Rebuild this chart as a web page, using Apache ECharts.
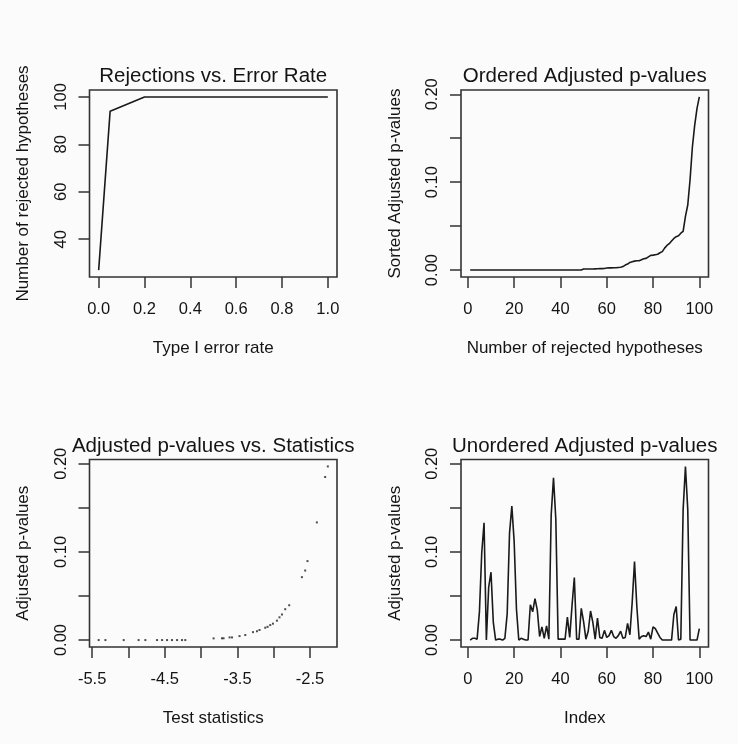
<!DOCTYPE html>
<html><head><meta charset="utf-8">
<script src="https://cdn.jsdelivr.net/npm/echarts@6/dist/echarts.min.js"></script>
<style>html,body{margin:0;padding:0;background:#fbfbfb}#c{width:738px;height:744px}</style>
</head><body><div id="c"></div>
<script>
// ---- Panel 1: Rejections vs. Error Rate ----
const errorRates = [0, 0.05, 0.1, 0.15, 0.2, 0.25, 0.3, 0.35, 0.4, 0.45, 0.5, 0.55, 0.6, 0.65, 0.7, 0.75, 0.8, 0.85, 0.9, 0.95, 1.0];
const rejections = [27, 94, 96, 98, 100, 100, 100, 100, 100, 100, 100, 100, 100, 100, 100, 100, 100, 100, 100, 100, 100];
const p1XTicks = [0, 0.2, 0.4, 0.6, 0.8, 1.0];
const p1YTicks = [40, 60, 80, 100];

// ---- Panel 2: Ordered adjusted p-values ----
const sortedAdjP = [
  0,0,0,0,0,0,0,0,0,0, 0,0,0,0,0,0,0,0,0,0, 0,0,0,0,0,0,0,0,0,0, 0,0,0,0,0,0,0,0,0,0, 0,0,0,0,0,0,0,0,0,
  0.0012,0.0012,0.0012,0.0012,0.0013,0.0014,0.0015,0.0016,0.0017,0.0018,
  0.0024,0.0025,0.0025,0.0026,0.0026,0.003,
  0.0033,0.004,0.0057,0.0068,0.0087,0.0095,0.0102,0.0106,0.0106,0.0117,
  0.0129,0.0133,0.015,0.0167,0.017,0.0175,0.018,0.0197,0.021,0.025,
  0.028,0.030,0.033,0.036,0.038,0.039,0.042,0.044,0.061,0.074,
  0.103,0.14,0.165,0.184,0.197
];
const pTicks = [0, 0.05, 0.10, 0.15, 0.20];
const pLabels = [0, 0.10, 0.20];
const indexTicks = [0, 20, 40, 60, 80, 100];

// ---- Panel 3: Adjusted p-values vs. test statistics ----
const testStats = [-5.41, -5.317, -5.065, -4.86, -4.767, -4.606, -4.537, -4.468, -4.40, -4.33, -4.262, -4.217,
  -3.827, -3.712, -3.69, -3.607, -3.574, -3.47, -3.391, -3.285, -3.23, -3.195, -3.116, -3.084, -3.047, -3.01,
  -2.955, -2.92, -2.886, -2.841, -2.786, -2.611, -2.566, -2.534, -2.405, -2.291, -2.254];
const statAdjP = [0, 0, 0, 0, 0, 0, 0, 0, 0, 0, 0, 0,
  0.0019, 0.002, 0.002, 0.003, 0.003, 0.0045, 0.0057, 0.009, 0.010, 0.0114, 0.014, 0.015, 0.017, 0.0186,
  0.022, 0.0258, 0.029, 0.035, 0.0395, 0.0714, 0.0789, 0.0896, 0.1335, 0.185, 0.197];
const statTicks = [-5.5, -5.0, -4.5, -4.0, -3.5, -3.0, -2.5];
const statLabels = [-5.5, -4.5, -3.5, -2.5];

// ---- Panel 4: Unordered adjusted p-values ----
const unorderedAdjP = [
  0, 0.002, 0.002, 0.001, 0.032, 0.099, 0.133, 0.0, 0.06, 0.077,
  0.02, 0.0, 0.001, 0.001, 0.0, 0.002, 0.03, 0.121, 0.152, 0.112,
  0.035, 0.0, 0.002, 0.001, 0.0, 0.0, 0.04, 0.032, 0.047, 0.034,
  0.004, 0.015, 0.002, 0.016, 0.001, 0.142, 0.184, 0.137, 0.001, 0.001,
  0.001, 0.001, 0.026, 0.003, 0.039, 0.071, 0.001, 0.001, 0.036, 0.021,
  0.001, 0.01, 0.033, 0.02, 0.001, 0.025, 0.003, 0.002, 0.011, 0.003,
  0.005, 0.011, 0.004, 0.002, 0.005, 0.01, 0.002, 0.003, 0.019, 0.006,
  0.043, 0.089, 0.038, 0.001, 0.004, 0.005, 0.004, 0.009, 0.001, 0.015,
  0.013, 0.008, 0.003, 0, 0, 0, 0, 0, 0.029, 0.038,
  0, 0.001, 0.148, 0.197, 0.148, 0, 0, 0, 0, 0.013
];

// ---- build ----
const FONT = '"Liberation Sans", Arial, sans-serif';
const TXT = '#141414';
const LINE = '#1a1a1a';
const BOX = '#333';
const FS = 16.5;
const FSN = 17;

function ext(arr){ const lo=Math.min(...arr), hi=Math.max(...arr); const d=(hi-lo)*0.04; return [lo-d, hi+d]; }
function pairs(xs, ys){ return xs.map((x,i)=>[x, ys[i]]); }
const idx100 = sortedAdjP.map((_,i)=>i+1);

function xAx(g, range, ticks, labels, fmt, name){
  return { type:'value', gridIndex:g, min:range[0], max:range[1], name, nameLocation:'middle', nameGap:71,
    nameTextStyle:{fontFamily:FONT, fontSize:FSN, color:TXT, verticalAlign:'middle'},
    axisLine:{show:false, onZero:false}, splitLine:{show:false},
    axisTick:{show:true, length:11, customValues:ticks, lineStyle:{color:BOX, width:1.5}},
    axisLabel:{customValues:labels, formatter:fmt, margin:24, fontFamily:FONT, fontSize:FS, color:TXT} };
}
function yAx(g, range, ticks, labels, fmt, name){
  return { type:'value', gridIndex:g, min:range[0], max:range[1], name, nameLocation:'middle', nameGap:66,
    nameTextStyle:{fontFamily:FONT, fontSize:FSN, color:TXT, verticalAlign:'middle'},
    axisLine:{show:false, onZero:false}, splitLine:{show:false},
    axisTick:{show:true, length:11, customValues:ticks, lineStyle:{color:BOX, width:1.5}},
    axisLabel:{customValues:labels, formatter:fmt, rotate:90, margin:20, fontFamily:FONT, fontSize:FS, color:TXT} };
}
const gridStyle = {show:true, borderColor:BOX, borderWidth:1.6, backgroundColor:'transparent'};
const f1 = v=>v.toFixed(1), f2 = v=>v.toFixed(2), f0 = v=>String(Math.round(v));

const option = {
  backgroundColor:'#fbfbfb',
  animation:false,
  grid:[
    Object.assign({left:89.5, top:90, width:247.5, height:187}, gridStyle),
    Object.assign({left:461, top:90, width:247.5, height:187}, gridStyle),
    Object.assign({left:89.5, top:459.5, width:247.5, height:187.5}, gridStyle),
    Object.assign({left:461, top:459.5, width:247.5, height:187.5}, gridStyle)
  ],
  xAxis:[
    xAx(0, ext(errorRates), p1XTicks, p1XTicks, f1, 'Type I error rate'),
    xAx(1, ext(idx100), indexTicks, indexTicks, f0, 'Number of rejected hypotheses'),
    xAx(2, ext(testStats), statTicks, statLabels, f1, 'Test statistics'),
    xAx(3, ext(idx100), indexTicks, indexTicks, f0, 'Index')
  ],
  yAxis:[
    yAx(0, ext(rejections), p1YTicks, p1YTicks, f0, 'Number of rejected hypotheses'),
    yAx(1, ext(sortedAdjP), pTicks, pLabels, f2, 'Sorted Adjusted p-values'),
    yAx(2, ext(statAdjP), pTicks, pLabels, f2, 'Adjusted p-values'),
    yAx(3, ext(unorderedAdjP), pTicks, pLabels, f2, 'Adjusted p-values')
  ],
  series:[
    {type:'line', xAxisIndex:0, yAxisIndex:0, data:pairs(errorRates, rejections), showSymbol:false, lineStyle:{color:LINE, width:1.6}},
    {type:'line', xAxisIndex:1, yAxisIndex:1, data:pairs(idx100, sortedAdjP), showSymbol:false, lineStyle:{color:LINE, width:1.6}},
    {type:'scatter', xAxisIndex:2, yAxisIndex:2, data:pairs(testStats, statAdjP), symbol:'rect', symbolSize:2, itemStyle:{color:'#222'}},
    {type:'line', xAxisIndex:3, yAxisIndex:3, data:pairs(idx100, unorderedAdjP), showSymbol:false, lineStyle:{color:LINE, width:1.6}}
  ],
  graphic:[
    ['Rejections vs. Error Rate', 213.2, 76],
    ['Ordered Adjusted p-values', 584.7, 76],
    ['Adjusted p-values vs. Statistics', 213.2, 446.5],
    ['Unordered Adjusted p-values', 584.7, 446.5]
  ].map(([t,x,y])=>({type:'text', x, y, silent:true, style:{text:t, font:'20.5px '+FONT, fill:TXT,
     align:'center', verticalAlign:'middle', textAlign:'center', textVerticalAlign:'middle'}}))
};
const chart = echarts.init(document.getElementById('c'));
chart.setOption(option);
</script></body></html>
